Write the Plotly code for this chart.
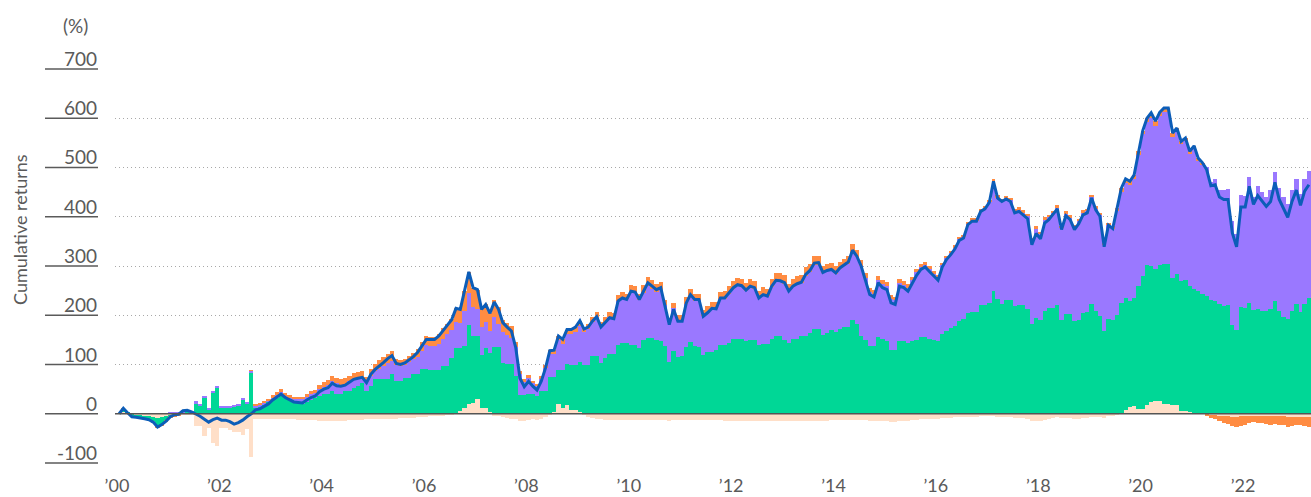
import calendar
from datetime import datetime, timedelta
import plotly.graph_objects as go

# ---------------- data (monthly, Jan 2000 - Apr 2023), cumulative %
total = [
    0, 11, 2, -6, -7, -8, -10, -12, -17, -27, -22, -15,          # 2000
    -6, -2, -1, 6, 7, 4, 0, -5, -11, -17, -12, -9,               # 2001
    -13, -13, -16, -21, -18, -13, -6, 0, 8, 10, 15, 20,          # 2002
    28, 34, 40, 33, 28, 24, 23, 22, 28, 33, 36, 45,              # 2003
    50, 53, 62, 57, 56, 58, 64, 70, 72, 74, 63, 80,              # 2004
    90, 98, 104, 112, 118, 102, 100, 103, 110, 116, 125, 139,    # 2005
    151, 151, 151, 158, 170, 180, 191, 214, 212, 249, 288, 256,  # 2006
    252, 212, 222, 204, 227, 212, 185, 176, 168, 135, 72, 55,    # 2007
    66, 56, 48, 66, 93, 128, 129, 158, 151, 171, 171, 176,       # 2008
    189, 172, 176, 188, 197, 176, 185, 195, 193, 229, 235, 232,  # 2009
    249, 247, 232, 249, 266, 259, 252, 256, 218, 181, 212, 188,  # 2010
    188, 225, 242, 232, 232, 198, 205, 214, 213, 235, 235, 245,  # 2011
    256, 262, 260, 251, 259, 256, 235, 242, 239, 259, 271, 270,  # 2012
    266, 249, 259, 264, 267, 283, 291, 306, 307, 287, 291, 293,  # 2013
    286, 296, 302, 308, 332, 320, 300, 273, 242, 237, 266, 256,  # 2014
    252, 225, 222, 259, 256, 249, 265, 281, 293, 298, 289, 279,  # 2015
    271, 298, 313, 323, 335, 352, 357, 384, 391, 391, 411, 416,  # 2016
    429, 472, 438, 431, 436, 431, 408, 411, 404, 396, 343, 366,  # 2017
    355, 387, 394, 404, 416, 374, 402, 394, 374, 386, 404, 408,  # 2018
    438, 414, 401, 339, 383, 376, 414, 458, 477, 472, 485, 533,  # 2019
    575, 600, 611, 594, 612, 621, 621, 570, 580, 553, 560, 533,  # 2020
    544, 519, 510, 496, 463, 465, 440, 435, 435, 367, 339, 420,  # 2021
    420, 462, 425, 443, 433, 421, 431, 470, 435, 418, 399, 431,  # 2022
    454, 423, 452, 465,                                          # 2023
]

green = [
    0, 5, 1, -3, -3, -4, -5, -6, -9, -18, -14, -8,
    -3, -1, 1, 2, 3, 2, 21, 16, 32, 9, 43, 53,
    13, 13, 13, 14, 16, 28, 21, 83, 13, 15, 18, 24,
    28, 32, 36, 32, 27, 24, 21, 20, 24, 28, 32, 36,
    41, 41, 46, 41, 41, 46, 46, 53, 56, 63, 46, 56,
    70, 70, 70, 70, 81, 66, 66, 73, 73, 80, 80, 90,
    90, 88, 88, 88, 97, 97, 113, 132, 129, 125, 162, 135,
    127, 108, 122, 120, 136, 136, 103, 102, 102, 76, 39, 39,
    41, 41, 36, 46, 46, 75, 72, 70, 77, 85, 93, 93,
    102, 99, 99, 118, 118, 103, 114, 122, 122, 139, 143, 143,
    139, 139, 134, 149, 154, 154, 150, 147, 137, 105, 127, 116,
    117, 135, 145, 137, 136, 120, 125, 125, 130, 139, 139, 143,
    152, 152, 152, 147, 149, 149, 139, 141, 141, 151, 157, 157,
    150, 143, 152, 152, 157, 157, 164, 172, 172, 159, 164, 171,
    166, 172, 176, 176, 191, 183, 157, 150, 137, 137, 156, 151,
    147, 130, 130, 147, 147, 143, 147, 150, 156, 156, 152, 149,
    147, 161, 168, 174, 179, 188, 193, 204, 206, 206, 220, 220,
    225, 249, 232, 222, 230, 230, 218, 220, 220, 213, 183, 195,
    190, 208, 215, 215, 220, 190, 203, 203, 188, 191, 205, 207,
    222, 208, 198, 168, 193, 191, 201, 223, 228, 215, 219, 249,
    269, 286, 275, 268, 277, 285, 286, 259, 266, 263, 267, 255,
    252, 248, 244, 239, 231, 229, 222, 218, 220, 181, 171, 217,
    215, 225, 210, 212, 208, 208, 212, 229, 208, 197, 193, 208,
    222, 206, 222, 235,
]

peach = [
    0, 3, 1, -2, -3, -3, -4, -5, -7, -8, -7, -5,
    -3, -3, -3, -2, -1, -1, -25, -25, -46, -28, -59, -66,
    -28, -28, -32, -38, -38, -44, -30, -88, -10, -10, -10, -10,
    -10, -10, -10, -10, -11, -11, -12, -12, -12, -13, -13, -14,
    -15, -15, -15, -15, -14, -14, -13, -13, -12, -12, -11, -11,
    -11, -11, -11, -10, -10, -10, -9, -9, -8, -8, -7, -7,
    -6, -5, -4, -4, -4, -3, -2, 2, 5, 12, 19, 22,
    30, 12, 12, 4, -4, -5, -6, -8, -10, -11, -14, -15,
    -12, -11, -12, -10, -6, -2, 3, 19, 12, 17, 7, 7,
    3, -3, -6, -8, -10, -11, -12, -12, -12, -12, -12, -12,
    -12, -12, -12, -12, -12, -12, -12, -12, -13, -14, -13, -13,
    -13, -12, -12, -12, -12, -12, -13, -13, -13, -13, -14, -14,
    -14, -14, -14, -14, -14, -14, -15, -15, -15, -15, -15, -15,
    -15, -15, -15, -15, -15, -15, -14, -14, -14, -14, -14, -13,
    -13, -13, -13, -13, -12, -12, -12, -13, -14, -14, -14, -15,
    -15, -16, -16, -15, -14, -14, -13, -12, -11, -10, -10, -10,
    -10, -9, -8, -8, -7, -7, -6, -6, -6, -6, -5, -5,
    -5, -5, -6, -6, -7, -7, -8, -8, -9, -10, -14, -15,
    -15, -12, -10, -8, -7, -8, -9, -9, -10, -10, -9, -8,
    -7, -7, -7, -8, -5, -5, -3, 2, 7, 14, 16, 10,
    10, 17, 24, 26, 26, 20, 19, 17, 17, 6, 5, 4,
    2, 1, 0, -1, -2, -3, -4, -5, -5, -6, -6, -5,
    -5, -4, -4, -4, -4, -4, -5, -5, -5, -5, -6, -6,
    -6, -6, -6, -7,
]

orange = [
    0, 1, 0, 0, 0, 0, 0, 0, 0, -1, -2, -3,
    -2, -2, -1, 0, 0, 0, 0, 0, 0, 0, 0, 0,
    0, 0, 0, 0, 0, 0, 0, 1, 2, 2, 3, 3,
    4, 5, 6, 6, 6, 5, 5, 5, 5, 6, 7, 9,
    10, 10, 11, 10, 11, 11, 11, 12, 12, 12, 10, 14,
    15, 18, 18, 18, 20, 12, 12, 12, 12, 13, 16, 18,
    18, 18, 18, 20, 22, 22, 22, 28, 28, 40, 42, 40,
    40, 35, 35, 35, 35, 35, 25, 25, 25, 10, 5, 4,
    4, 4, 3, 4, 6, 8, 8, 9, 9, 10, 10, 10,
    10, 9, 9, 10, 10, 10, 10, 11, 11, 12, 12, 12,
    14, 14, 14, 16, 18, 18, 16, 16, 10, 8, 10, 10,
    10, 14, 15, 15, 14, 12, 13, 14, 14, 15, 15, 15,
    16, 17, 17, 16, 16, 16, 14, 14, 14, 16, 18, 18,
    17, 14, 16, 16, 16, 18, 18, 18, 18, 16, 16, 16,
    16, 16, 16, 16, 15, 14, 12, 10, 8, 7, 8, 8,
    8, 7, 7, 8, 8, 7, 7, 6, 6, 6, 6, 5,
    5, 5, 5, 5, 5, 5, 5, 5, 5, 5, 5, 5,
    5, 6, 6, 5, 5, 5, 5, 5, 5, 5, 3, 4,
    4, 5, 5, 5, 5, 4, 5, 5, 4, 4, 5, 5,
    5, 5, 5, 4, 5, 5, 6, 8, 8, 8, 8, 8,
    8, 8, 10, 10, 8, 8, 8, 8, 7, 6, 6, 5,
    5, 4, 3, -3, -6, -8, -10, -14, -16, -18, -20, -20,
    -18, -14, -12, -15, -14, -16, -18, -16, -18, -18, -20, -18,
    -16, -17, -18, -20,
]

# purple contribution = remainder between the total line and the other three pieces
purple = [t - g - p - o for t, g, p, o in zip(total, green, peach, orange)]

y_ticks = [-100, 0, 100, 200, 300, 400, 500, 600, 700]
x_tick_years = list(range(2000, 2023, 2))

# ---------------- month positions
centers, widths = [], []
for i in range(len(total)):
    yr, mo = 2000 + i // 12, i % 12 + 1
    days = calendar.monthrange(yr, mo)[1]
    start = datetime(yr, mo, 1)
    centers.append((start + timedelta(days=days / 2)).strftime("%Y-%m-%d %H:%M"))
    widths.append(days * 86400000)

C_GREEN = "#00D796"
C_PURPLE = "#9A78FF"
C_ORANGE = "#FF8C42"
C_PEACH = "#FFDFC8"
C_LINE = "#0C5DB8"
C_TEXT = "#5a5a5a"
FONT = "Lato, 'Open Sans', sans-serif"

fig = go.Figure()
for name, vals, col in [("Peach", peach, C_PEACH), ("Green", green, C_GREEN),
                        ("Purple", purple, C_PURPLE), ("Orange", orange, C_ORANGE)]:
    fig.add_trace(go.Bar(x=centers, y=vals, width=widths, name=name,
                         marker=dict(color=col, line=dict(width=0))))

fig.add_trace(go.Scatter(x=centers, y=total, mode="lines", name="Total",
                         line=dict(color=C_LINE, width=3)))

YMIN, YMAX = -102, 702
L, R, T, B = 115, 0, 68, 33
W, H = 1311, 497
pw = W - L - R

shapes = []
annotations = []
for v in y_ticks:
    yp = (v - YMIN) / (YMAX - YMIN)
    shapes.append(dict(type="line", xref="paper", yref="paper",
                       x0=(45 - L) / pw, x1=(98 - L) / pw, y0=yp, y1=yp,
                       line=dict(color=C_TEXT, width=1.5)))
    annotations.append(dict(text=str(v), xref="paper", yref="y",
                            x=(99 - L) / pw, y=v, xanchor="right", yanchor="bottom",
                            yshift=-3, showarrow=False,
                            font=dict(size=19, color=C_TEXT, family=FONT)))
# zero baseline
shapes.append(dict(type="line", xref="paper", yref="y", x0=0, x1=1, y0=0, y1=0,
                   line=dict(color="#555555", width=1.5), layer="above"))

annotations.append(dict(text="(%)", xref="paper", yref="paper",
                        x=(75 - L) / pw, y=1 + (T - 25) / (H - T - B),
                        xanchor="center", yanchor="middle", showarrow=False,
                        font=dict(size=19, color=C_TEXT, family=FONT)))
annotations.append(dict(text="Cumulative returns", xref="paper", yref="paper",
                        x=(20 - L) / pw, y=(H - B - 230) / (H - T - B),
                        xanchor="center", yanchor="middle", textangle=-90, showarrow=False,
                        font=dict(size=18, color=C_TEXT, family=FONT)))

fig.update_layout(
    width=W, height=H, margin=dict(l=L, r=R, t=T, b=B, pad=0, autoexpand=False),
    barmode="relative", bargap=0,
    plot_bgcolor="white", paper_bgcolor="white", showlegend=False,
    font=dict(family=FONT, color=C_TEXT),
    shapes=shapes, annotations=annotations,
    xaxis=dict(type="date", range=["1999-12-18", "2023-05-01"],
               tickvals=[f"{y}-01-01" for y in x_tick_years],
               ticktext=["\u2019" + f"{y % 100:02d}" for y in x_tick_years],
               ticks="outside", ticklen=5, tickcolor="rgba(0,0,0,0)",
               showgrid=False, zeroline=False, showline=False, automargin=False,
               tickfont=dict(size=18, color=C_TEXT, family=FONT)),
    yaxis=dict(range=[YMIN, YMAX], tickvals=y_ticks, showticklabels=False,
               showgrid=True, gridcolor="#a8a8a8", gridwidth=1, griddash="1px,3px",
               zeroline=False, showline=False, ticks="", automargin=False),
)

fig.write_html("out.html", config={"displayModeBar": False},
               post_script="document.body.style.margin='0';")
